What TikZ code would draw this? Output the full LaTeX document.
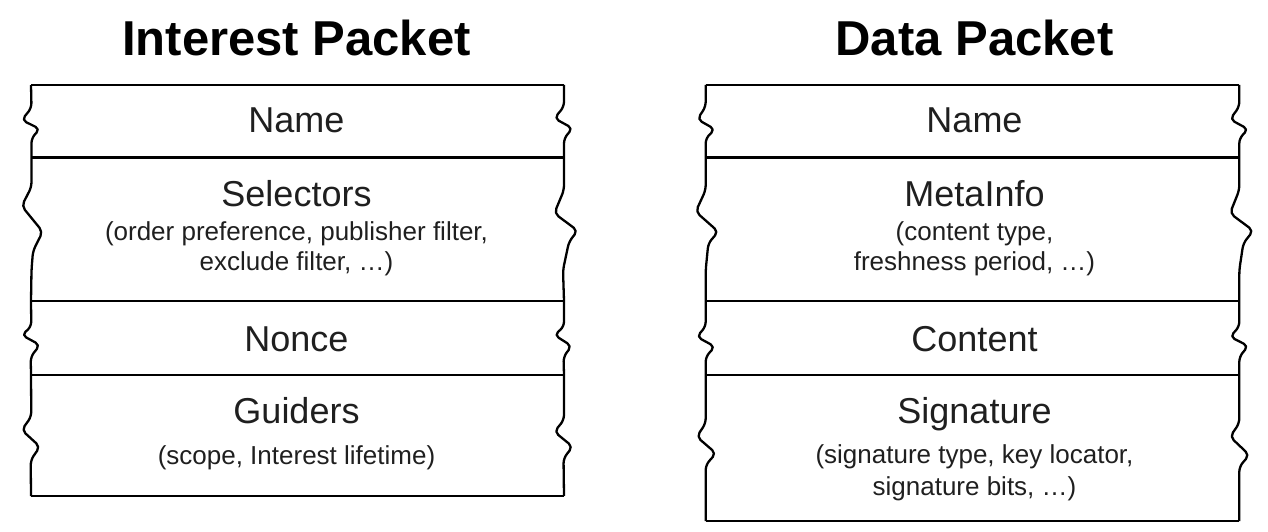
\documentclass[tikz,border=0pt]{standalone}
\usepackage{fontspec}
\setmainfont{Liberation Sans}
\definecolor{txt}{gray}{0.12}
\begin{document}
\begin{tikzpicture}[x=1pt,y=-1pt,
  frame/.style={line width=2.3pt, line join=round, rounded corners=5pt},
  sep/.style={line width=2.6pt, line cap=square},
  ptitle/.style={font=\fontsize{49}{55}\selectfont\bfseries, anchor=base, inner sep=0pt},
  head/.style={font=\fontsize{36}{40}\selectfont, text=txt, anchor=base, inner sep=0pt},
  sub/.style={font=\fontsize{26}{31}\selectfont, text=txt, anchor=base, inner sep=0pt}]
\useasboundingbox (0,0) rectangle (1268,532);

% ---------- Interest Packet ----------
\node[ptitle] (ititle) at (296.5,56) {Interest Packet};
\draw[sep] (31,85) -- (564,85);
\draw[sep] (31,157.5) -- (564,157.5);
\draw[sep] (31,301) -- (564,301);
\draw[sep] (31,375) -- (564,375);
\draw[sep] (31,496) -- (564,496);
\draw[frame] (31,85) -- (31.5,108) -- (21.7,120) -- (40,129) -- (31.5,138)
  -- (31.5,187) -- (21.7,206) -- (42.7,231.7) -- (33,251) -- (31.5,270)
  -- (31,301) -- (31.3,326.7) -- (21.7,335) -- (40,345) -- (30.7,356.7)
  -- (31,375) -- (31.3,416.7) -- (21.7,430) -- (40,446.7) -- (30.7,460) -- (31,496);
\draw[frame] (564,85) -- (564,106.7) -- (554.3,118.3) -- (572.7,128.3) -- (564,138.3)
  -- (564,190) -- (554.3,213.3) -- (577.7,230.7) -- (569,241.7) -- (563,270)
  -- (564,301) -- (564,326.7) -- (554.3,335) -- (571.7,346) -- (563.5,356.7)
  -- (564,375) -- (564,420) -- (554.3,431.7) -- (572.7,446.7) -- (563.5,458.3) -- (564,496);

\node[head] (iname) at (296.5,132) {Name};
\node[head] (isel) at (296.5,206) {Selectors};
\node[sub] (isela) at (296.5,240) {(order preference, publisher filter,};
\node[sub] (iselb) at (296.5,270) {exclude filter, …)};
\node[head] (inonce) at (296.5,351) {Nonce};
\node[head] (iguid) at (296.5,423) {Guiders};
\node[sub] (iguida) at (296.5,464) {(scope, Interest lifetime)};

% ---------- Data Packet ----------
\node[ptitle] (dtitle) at (974.5,56) {Data Packet};
\draw[sep] (705.7,85) -- (1239.3,85);
\draw[sep] (705.7,157.5) -- (1239.3,157.5);
\draw[sep] (705.7,301) -- (1239.3,301);
\draw[sep] (705.7,375) -- (1239.3,375);
\draw[sep] (705.7,521) -- (1239.3,521);
\draw[frame] (705.7,85) -- (705.7,106.7) -- (697.3,119.3) -- (715,129.3) -- (705.7,138.3)
  -- (705.7,190) -- (695.7,211.7) -- (718.3,231.7) -- (708.3,243.3) -- (705.7,270)
  -- (705.7,301) -- (705.7,326.7) -- (696.7,336.7) -- (715,346.7) -- (705.7,356.7)
  -- (705.7,375) -- (705.7,423.3) -- (696.7,436.7) -- (716,453.3) -- (705.7,465) -- (705.7,521);
\draw[frame] (1239.3,85) -- (1239.3,106.7) -- (1230,119.3) -- (1248.3,129.3) -- (1239.3,138.3)
  -- (1239.3,190) -- (1230,213.3) -- (1253.3,230.7) -- (1243.3,243.3) -- (1239.3,270)
  -- (1239.3,301) -- (1239.3,326.7) -- (1230,336.7) -- (1248.3,346) -- (1239.3,356.7)
  -- (1239.3,375) -- (1239.3,423.3) -- (1230,436.7) -- (1249.3,455) -- (1239.3,466.7) -- (1239.3,521);

\node[head] (dname) at (974.5,132) {Name};
\node[head] (dmeta) at (974.5,206) {MetaInfo};
\node[sub] (dmetaa) at (974.5,240) {(content type,};
\node[sub] (dmetab) at (974.5,270) {freshness period, …)};
\node[head] (dcont) at (974.5,351) {Content};
\node[head] (dsig) at (974.5,423) {Signature};
\node[sub] (dsiga) at (974.5,463) {(signature type, key locator,};
\node[sub] (dsigb) at (974.5,495) {signature bits, …)};
\end{tikzpicture}
\end{document}
